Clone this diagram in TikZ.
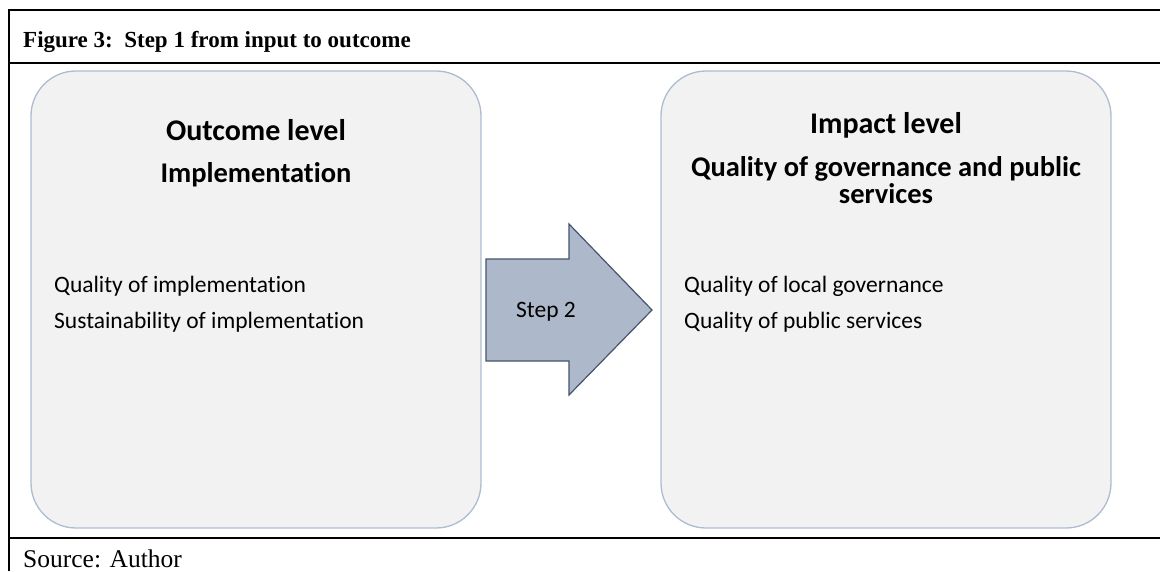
\documentclass[tikz,border=0pt]{standalone}
\usepackage{fontspec}
\setmainfont{Carlito}[Ligatures=NoCommon]
\newfontfamily\timesf{Liberation Serif}
\definecolor{boxfill}{HTML}{F2F2F2}
\definecolor{boxline}{HTML}{AEBCD2}
\definecolor{arrfill}{HTML}{ADB9CA}
\definecolor{arrline}{HTML}{44546A}
\begin{document}
\begin{tikzpicture}[x=1pt,y=-1pt,
  level/.style={rounded corners=45pt,fill=boxfill,draw=boxline,line width=1.3pt},
  frame/.style={line width=2pt,black},
  ttl/.style={font=\fontsize{30}{36}\selectfont\bfseries,anchor=base,inner sep=0pt},
  sub/.style={font=\fontsize{28.5}{34}\selectfont\bfseries,anchor=base,inner sep=0pt},
  body/.style={font=\fontsize{23.5}{28}\selectfont,anchor=base west,inner sep=0pt}]
\useasboundingbox (0,0) rectangle (1160,571);
% frame
\draw[frame] (9,571) -- (9,10) -- (1160,10);
\draw[frame] (9,63) -- (1160,63);
\draw[frame] (9,538) -- (1160,538);
\node[anchor=base west,inner sep=0pt,font=\timesf\fontsize{23}{28}\selectfont\bfseries] (hdr) at (23,47) {Figure 3:\ \ Step 1 from input to outcome};
\node[anchor=base west,inner sep=0pt,font=\timesf\fontsize{25.5}{30}\selectfont] (src) at (23,567) {Source: Author};
% boxes
\draw[level] (31,71) rectangle (481,528);
\draw[level] (661,71) rectangle (1111,528);
% left texts
\node[ttl] (lt1) at (256,140) {Outcome level};
\node[sub] (lt2) at (256,182) {Implementation};
\node[body] (lb1) at (54,292) {Quality of implementation};
\node[body] (lb2) at (54,328) {Sustainability of implementation};
% right texts
\node[ttl] (rt1) at (886,133) {Impact level};
\node[sub] (rt2) at (886,176) {Quality of governance and public};
\node[sub] (rt3) at (886,203) {services};
\node[body] (rb1) at (684,292) {Quality of local governance};
\node[body] (rb2) at (684,328) {Quality of public services};
% arrow
\draw[fill=arrfill,draw=arrline,line width=1.2pt,line join=miter]
  (486,259) -- (569,259) -- (569,224) -- (652,310) -- (569,395) -- (569,361) -- (486,361) -- cycle;
\node[font=\fontsize{23.5}{28}\selectfont,anchor=base,inner sep=0pt] (step) at (546,317) {Step 2};
\end{tikzpicture}
\end{document}
